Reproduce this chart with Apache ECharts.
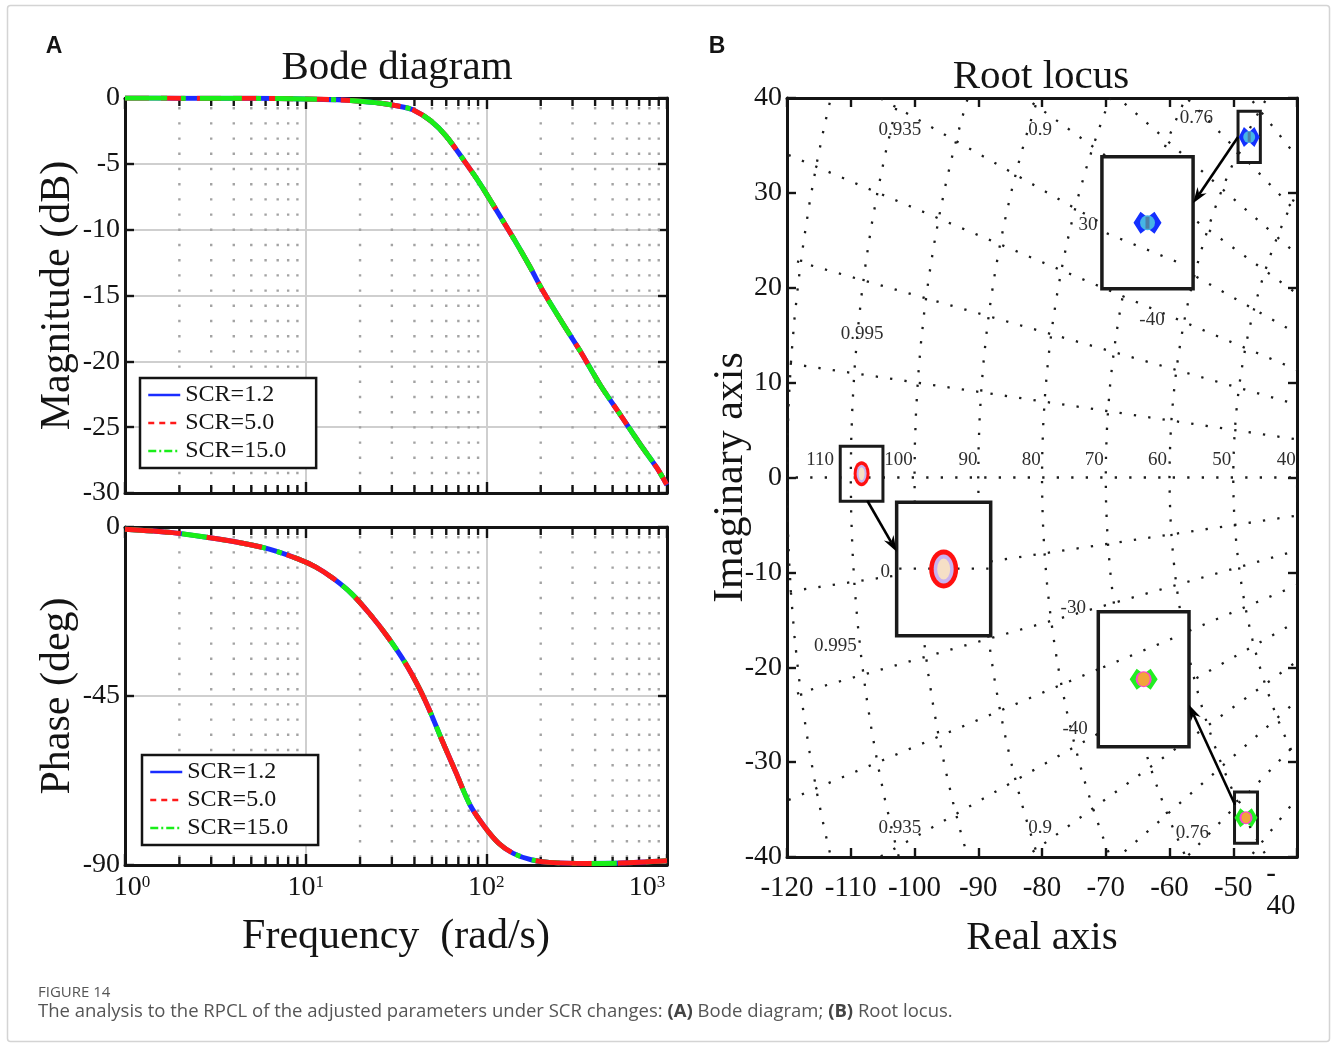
<!DOCTYPE html>
<html>
<head>
<meta charset="utf-8">
<script src="https://cdn.jsdelivr.net/npm/echarts@6.0.0/dist/echarts.min.js"></script>
<style>
html,body{margin:0;padding:0;background:#ffffff;}
#chart{width:1332px;height:1045px;}
</style>
</head>
<body>
<div id="chart"></div>
<script>
// ================= DATA =================
const scrNames = ['SCR=1.2', 'SCR=5.0', 'SCR=15.0'];

// Bode magnitude: frequency (rad/s) and gain (dB); the three SCR curves coincide
const magFreq   = [1, 2, 4, 7, 10, 15, 20, 25.5, 33, 39.2, 49.4, 59.9, 75.8, 91.8, 108.9, 140.6, 174, 206.5, 267, 330, 427, 551, 711, 880, 1000];
const magScr12  = [0, -0.01, -0.02, -0.04, -0.07, -0.14, -0.24, -0.38, -0.63, -0.89, -1.75, -2.9, -4.81, -6.46, -8.1, -10.6, -12.8, -14.7, -17.2, -19.2, -21.8, -24.05, -26.3, -28.1, -29.4];
const magScr50  = [0, -0.01, -0.02, -0.04, -0.07, -0.14, -0.24, -0.38, -0.63, -0.89, -1.75, -2.9, -4.81, -6.46, -8.1, -10.6, -12.8, -14.7, -17.2, -19.2, -21.8, -24.05, -26.3, -28.1, -29.4];
const magScr150 = [0, -0.01, -0.02, -0.04, -0.07, -0.14, -0.24, -0.38, -0.63, -0.89, -1.75, -2.9, -4.81, -6.46, -8.1, -10.6, -12.8, -14.7, -17.2, -19.2, -21.8, -24.05, -26.3, -28.1, -29.4];

// Bode phase: frequency (rad/s) and phase (deg)
const phaseFreq   = [1, 1.83, 2.89, 4.56, 6.29, 9.06, 11.4, 14.3, 18.0, 22.6, 28.4, 35.7, 42.9, 49.2, 56.5, 67.8, 81.4, 97.7, 117, 141, 177, 223, 352, 556, 1000];
const phaseScr12  = [-0.6, -1.5, -2.8, -4.4, -5.9, -8.5, -10.7, -13.8, -17.8, -23.1, -29.2, -36.3, -43.3, -49.5, -56.5, -65.3, -74.1, -79.8, -84.2, -86.9, -88.6, -89.3, -89.6, -89.5, -88.9];
const phaseScr50  = [-0.6, -1.5, -2.8, -4.4, -5.9, -8.5, -10.7, -13.8, -17.8, -23.1, -29.2, -36.3, -43.3, -49.5, -56.5, -65.3, -74.1, -79.8, -84.2, -86.9, -88.6, -89.3, -89.6, -89.5, -88.9];
const phaseScr150 = [-0.6, -1.5, -2.8, -4.4, -5.9, -8.5, -10.7, -13.8, -17.8, -23.1, -29.2, -36.3, -43.3, -49.5, -56.5, -65.3, -74.1, -79.8, -84.2, -86.9, -88.6, -89.3, -89.6, -89.5, -88.9];

// Tick values / labels
const freqMinorTicks = [2, 3, 4, 5, 6, 7, 8, 9, 20, 30, 40, 50, 60, 70, 80, 90, 200, 300, 400, 500, 600, 700, 800, 900];
const freqTickExponents = ['0', '1', '2', '3'];
const magTickLabels = ['0', '-5', '-10', '-15', '-20', '-25', '-30'];
const phaseTickLabels = ['0', '-45', '-90'];

// Root locus: closed-loop poles (real, imaginary)
const poleRe = [-108.3, -47.5, -48.0];
const poleIm = [0.4, 35.9, -35.85];
// s-grid: damping ratios and natural frequencies shown
const sgridZeta = [0.995, 0.982, 0.962, 0.935, 0.9, 0.862, 0.82, 0.764];
const sgridWn = [40, 50, 60, 70, 80, 90, 100, 110, 120];
const realTickLabels = ['-120', '-110', '-100', '-90', '-80', '-70', '-60', '-50', '-40'];
const imagTickLabels = ['40', '30', '20', '10', '0', '-10', '-20', '-30', '-40'];
const zetaLabelTexts = ['0.935', '0.9', '0.76', '0.995', '0.995', '0.935', '0.9', '0.76'];
const wnLabelTexts = ['110', '100', '90', '80', '70', '60', '50', '40'];
const insetLabelTexts = ['30', '-40', '0', '-30', '-40'];

// ================= LAYOUT (annotation anchors, in root-locus axis units) =================
const zetaLabelAt = [[-102.3, 36.6], [-80.3, 36.6], [-55.8, 37.9], [-108.2, 15.1], [-112.4, -17.8], [-102.3, -36.9], [-80.3, -36.9], [-56.4, -37.5]];
const wnLabelAt = [[-114.8, 1.85], [-102.5, 1.85], [-91.6, 1.85], [-81.7, 1.85], [-71.8, 1.85], [-61.9, 1.85], [-51.8, 1.85], [-41.7, 1.85]];
const insetLabelAt = [[-72.8, 26.6], [-62.75, 16.6], [-104.6, -10.0], [-75.1, -13.75], [-74.8, -26.5]];
const insetDefs = [
  { pole: 0, half: [3.35, 2.9], big: [-102.8, -88.05, -16.68, -2.62], arrowFrom: [-107.4, -2.45], arrowTo: [-102.8, -7.82], gridSeg: [[-102.4, -9.6], [-88.4, -9.6]] },
  { pole: 1, half: [1.75, 2.7], big: [-70.6, -56.3, 19.9, 33.8], arrowFrom: [-49.25, 35.9], arrowTo: [-56.3, 28.9], gridSeg: [[-69.85, 25.74], [-58.0, 22.5]] },
  { pole: 2, half: [1.8, 2.7], big: [-71.17, -56.94, -28.37, -14.15], arrowFrom: [-49.72, -34.5], arrowTo: [-56.94, -23.96], gridSeg: [[-70.4, -20.0], [-58.6, -16.7]] }
];

// ================= STYLES =================
const SERIF = '"Liberation Serif", "Times New Roman", serif';
const SANS = '"Liberation Sans", Arial, sans-serif';
const CAPFONT = '"Open Sans", sans-serif';
const INK = '#141414';
const GRIDGRAY = '#cfcfcf';
const DOTGRAY = '#a3a3a3';
const BLUE = '#1a2cff', RED = '#ff1a1a', GREEN = '#19ee19';
const BOWTIE = 'path://M0,6 L5,0 L10,3 L15,0 L20,6 L15,12 L10,9 L5,12 Z';

const chart = echarts.init(document.getElementById('chart'), null, { renderer: 'canvas' });

const G = [
  { left: 125, top: 98, width: 542, height: 395 },   // magnitude
  { left: 125, top: 527, width: 542, height: 338 },  // phase
  { left: 787, top: 98, width: 510, height: 759 }    // root locus
];

function frameAxis(extra) {
  return Object.assign({
    axisLine: { show: true, onZero: false, lineStyle: { color: INK, width: 3 } },
    axisTick: { show: true, inside: true, length: 11, lineStyle: { color: INK, width: 2.4 } },
    axisLabel: { show: false },
    splitLine: { show: false }
  }, extra);
}
const splitGray = { show: true, lineStyle: { color: GRIDGRAY, width: 2 } };
const tick9 = { show: true, inside: true, length: 9, lineStyle: { color: INK, width: 2.4 } };

function freqLabel(v) {
  const e = Math.round(Math.log10(v));
  const exp = freqTickExponents[e];
  if (e === 0) return '{bf|10}{s|' + exp + '}';
  if (e === freqTickExponents.length - 1) return '{b|10}{sl|' + exp + '}';
  return '{b|10}{s|' + exp + '}';
}
const supRich = {
  b: { fontFamily: SERIF, fontSize: 28, color: INK },
  bf: { fontFamily: SERIF, fontSize: 28, color: INK, padding: [0, 0, 0, 14] },
  s: { fontFamily: SERIF, fontSize: 17, color: INK, verticalAlign: 'top' },
  sl: { fontFamily: SERIF, fontSize: 17, color: INK, verticalAlign: 'top', padding: [0, 40, 0, 0] }
};

const xAxes = [
  frameAxis({ type: 'log', logBase: 10, min: 1, max: 1000, gridIndex: 0, splitLine: splitGray }),
  frameAxis({ type: 'log', logBase: 10, min: 1, max: 1000, gridIndex: 0, position: 'top' }),
  frameAxis({
    type: 'log', logBase: 10, min: 1, max: 1000, gridIndex: 1, splitLine: splitGray,
    axisLabel: { show: true, margin: 9, formatter: freqLabel, rich: supRich },
    name: 'Frequency  (rad/s)', nameLocation: 'middle', nameGap: 51,
    nameTextStyle: { fontFamily: SERIF, fontSize: 42, color: INK }
  }),
  frameAxis({ type: 'log', logBase: 10, min: 1, max: 1000, gridIndex: 1, position: 'top' }),
  frameAxis({
    type: 'value', min: -120, max: -40, interval: 10, gridIndex: 2, axisTick: tick9,
    axisLabel: {
      show: true, margin: 17, fontFamily: SERIF, fontSize: 29, color: INK,
      formatter: v => (v === -40 ? '' : realTickLabels[Math.round((v + 120) / 10)])
    },
    name: 'Real axis', nameLocation: 'middle', nameGap: 61,
    nameTextStyle: { fontFamily: SERIF, fontSize: 41, color: INK }
  }),
  frameAxis({ type: 'value', min: -120, max: -40, interval: 10, gridIndex: 2, position: 'top', axisTick: tick9 })
];

const yAxes = [
  frameAxis({
    type: 'value', min: -30, max: 0, interval: 5, gridIndex: 0, splitLine: splitGray, axisTick: tick9,
    axisLabel: { show: true, margin: 5, fontFamily: SERIF, fontSize: 28, color: INK, formatter: v => magTickLabels[Math.round(-v / 5)] },
    name: 'Magnitude (dB)', nameLocation: 'middle', nameGap: 46,
    nameTextStyle: { fontFamily: SERIF, fontSize: 42, color: INK }
  }),
  frameAxis({ type: 'value', min: -30, max: 0, interval: 5, gridIndex: 0, position: 'right', axisTick: tick9 }),
  frameAxis({
    type: 'value', min: -90, max: 0, interval: 45, gridIndex: 1, splitLine: splitGray, axisTick: tick9,
    axisLabel: { show: true, margin: 5, fontFamily: SERIF, fontSize: 28, color: INK, formatter: v => phaseTickLabels[Math.round(-v / 45)] },
    name: 'Phase (deg)', nameLocation: 'middle', nameGap: 45,
    nameTextStyle: { fontFamily: SERIF, fontSize: 42, color: INK }
  }),
  frameAxis({ type: 'value', min: -90, max: 0, interval: 45, gridIndex: 1, position: 'right', axisTick: tick9 }),
  frameAxis({
    type: 'value', min: -40, max: 40, interval: 10, gridIndex: 2, axisTick: tick9,
    axisLabel: { show: true, margin: 5, fontFamily: SERIF, fontSize: 28, color: INK, formatter: v => imagTickLabels[Math.round((40 - v) / 10)] },
    name: 'Imaginary axis', nameLocation: 'middle', nameGap: 35, nameMoveOverlap: false,
    nameTextStyle: { fontFamily: SERIF, fontSize: 42, color: INK }
  }),
  frameAxis({ type: 'value', min: -40, max: 40, interval: 10, gridIndex: 2, position: 'right', axisTick: tick9 })
];

// ---------- Bode helpers ----------
function minorSeries(ai, yMin, yMax) {
  return {
    type: 'custom', xAxisIndex: ai, yAxisIndex: ai, silent: true, z: 1, animation: false,
    data: freqMinorTicks.map(f => [f, yMin]),
    renderItem(params, api) {
      const f = api.value(0);
      const b = api.coord([f, yMin]), t = api.coord([f, yMax]);
      return { type: 'group', children: [
        { type: 'line', shape: { x1: t[0], y1: t[1] + 9, x2: b[0], y2: b[1] - 2 }, style: { stroke: DOTGRAY, lineWidth: 2.4, lineDash: [2.4, 12.8] } },
        { type: 'line', shape: { x1: b[0], y1: b[1], x2: b[0], y2: b[1] - 8 }, style: { stroke: INK, lineWidth: 2.4 } },
        { type: 'line', shape: { x1: t[0], y1: t[1], x2: t[0], y2: t[1] + 8 }, style: { stroke: INK, lineWidth: 2.4 } }
      ] };
    }
  };
}
function curve(name, ai, xs, ys, color, type, z) {
  return {
    type: 'line', name, xAxisIndex: ai, yAxisIndex: ai, z,
    data: xs.map((x, i) => [x, ys[i]]),
    symbol: 'none', showSymbol: false, smooth: 0.3,
    lineStyle: { color, width: 5, type, cap: 'butt', join: 'round' }, itemStyle: { color },
    silent: true, animation: false
  };
}

// ---------- Root-locus helpers ----------
const dotStyle = { fill: null, stroke: '#1c1c1c', lineWidth: 2.3, lineDash: [2.3, 12.2] };
function sgridSeries() {
  return {
    type: 'custom', xAxisIndex: 4, yAxisIndex: 4, silent: true, z: 1, animation: false, data: [[-80, 0]],
    renderItem(params, api) {
      const cs = params.coordSys;
      const ch = [];
      sgridWn.forEach(w => {
        const pts = [];
        for (let a = -90; a <= 90; a += 2) {
          const r = a * Math.PI / 180;
          pts.push(api.coord([-w * Math.cos(r), w * Math.sin(r)]));
        }
        ch.push({ type: 'polyline', shape: { points: pts }, style: dotStyle });
      });
      ch.push({ type: 'polyline', shape: { points: [api.coord([0, 0]), api.coord([-200, 0])] }, style: dotStyle });
      sgridZeta.forEach(z => {
        const th = Math.acos(z);
        [1, -1].forEach(sg => {
          ch.push({ type: 'polyline', shape: { points: [api.coord([0, 0]), api.coord([-200 * Math.cos(th), sg * 200 * Math.sin(th)])] }, style: dotStyle });
        });
      });
      return { type: 'group', children: ch, clipPath: { type: 'rect', shape: { x: cs.x, y: cs.y, width: cs.width, height: cs.height } } };
    }
  };
}
function smallRect(d) {
  const i = d.pole;
  return [poleRe[i] - d.half[0], poleRe[i] + d.half[0], poleIm[i] - d.half[1], poleIm[i] + d.half[1]];
}
function rectShape(api, r) {
  const a = api.coord([r[0], r[3]]), b = api.coord([r[1], r[2]]);
  return { x: a[0], y: a[1], width: b[0] - a[0], height: b[1] - a[1] };
}
function arrowHead(p, q) {
  const dx = q[0] - p[0], dy = q[1] - p[1], L = Math.hypot(dx, dy);
  const ux = dx / L, uy = dy / L, nx = -uy, ny = ux;
  const len = 16, w = 5.5, notch = 11;
  return [[q[0], q[1]], [q[0] - ux * len + nx * w, q[1] - uy * len + ny * w], [q[0] - ux * notch, q[1] - uy * notch], [q[0] - ux * len - nx * w, q[1] - uy * len - ny * w]];
}
function labelEl(api, text, at) {
  const p = api.coord(at);
  return { type: 'text', x: p[0], y: p[1], style: { text, fill: '#2e2e2e', fontFamily: SERIF, fontSize: 19, align: 'center', verticalAlign: 'middle' } };
}
function insetSeries() {
  return {
    type: 'custom', xAxisIndex: 4, yAxisIndex: 4, silent: true, z: 3, animation: false, data: [[-80, 0]],
    renderItem(params, api) {
      const ch = [];
      zetaLabelTexts.forEach((t, k) => ch.push(labelEl(api, t, zetaLabelAt[k])));
      wnLabelTexts.forEach((t, k) => ch.push(labelEl(api, t, wnLabelAt[k])));
      insetDefs.forEach(d => {
        ch.push({ type: 'rect', shape: rectShape(api, smallRect(d)), style: { fill: null, stroke: '#1a1a1a', lineWidth: 3 } });
        ch.push({ type: 'rect', shape: rectShape(api, d.big), style: { fill: '#ffffff', stroke: '#1a1a1a', lineWidth: 3.5 } });
        ch.push({ type: 'polyline', shape: { points: d.gridSeg.map(p => api.coord(p)) }, style: dotStyle });
        const p = api.coord(d.arrowFrom), q = api.coord(d.arrowTo);
        const head = arrowHead(p, q);
        ch.push({ type: 'line', shape: { x1: p[0], y1: p[1], x2: head[2][0], y2: head[2][1] }, style: { stroke: '#000', lineWidth: 2.6 } });
        ch.push({ type: 'polygon', shape: { points: head }, style: { fill: '#000' } });
      });
      insetLabelTexts.forEach((t, k) => ch.push(labelEl(api, t, insetLabelAt[k])));
      return { type: 'group', children: ch };
    }
  };
}
function magnified(i) {
  const d = insetDefs.find(x => x.pole === i);
  const s = smallRect(d);
  const fx = (poleRe[i] - s[0]) / (s[1] - s[0]), fy = (poleIm[i] - s[2]) / (s[3] - s[2]);
  return [d.big[0] + fx * (d.big[1] - d.big[0]), d.big[2] + fy * (d.big[3] - d.big[2])];
}
const poleLayers = [
  { pole: 0, symbol: 'circle', color: '#ff1010', size: [[16, 25], [29, 39]] },
  { pole: 0, symbol: 'circle', color: '#c9b3f1', size: [[10, 18], [20, 29]] },
  { pole: 0, symbol: 'circle', color: '#f6dfc6', size: [[6, 13], [13, 21]] },
  { pole: 1, symbol: BOWTIE, color: '#1430ff', size: [[21, 20], [28, 22]] },
  { pole: 1, symbol: 'circle', color: '#46b5e6', size: [[12, 12], [15, 15]] },
  { pole: 1, symbol: 'rect', color: '#4d7fa6', size: [[3, 10], [4, 12]] },
  { pole: 2, symbol: BOWTIE, color: '#22ee22', size: [[23, 19], [28, 21]] },
  { pole: 2, symbol: 'circle', color: '#ff40d2', size: [[13, 13], [16, 16]] },
  { pole: 2, symbol: 'circle', color: '#f2a43a', size: [[9, 11], [12, 14]] }
];
const poleSeries = poleLayers.map((L, k) => ({
  type: 'scatter', xAxisIndex: 4, yAxisIndex: 4, z: 5 + k, silent: true, animation: false,
  symbol: L.symbol, symbolSize: (v, p) => L.size[p.dataIndex],
  itemStyle: { color: L.color, opacity: 1, borderWidth: 0 },
  data: [[poleRe[L.pole], poleIm[L.pole]], magnified(L.pole)]
}));

const noSymbol = { color: 'rgba(0,0,0,0)', opacity: 0, borderWidth: 0 };
const legendItems = [
  { name: scrNames[0], lineStyle: { type: 'solid', width: 2.5 }, itemStyle: noSymbol },
  { name: scrNames[1], lineStyle: { type: [6, 5], width: 2.5 }, itemStyle: noSymbol },
  { name: scrNames[2], lineStyle: { type: [8, 3, 2, 3], width: 2.5 }, itemStyle: noSymbol }
];
function legendAt(left, top) {
  return {
    left, top, orient: 'vertical', selectedMode: false, itemWidth: 32, itemHeight: 12, itemGap: 4,
    padding: [5, 30, 5, 7], backgroundColor: '#ffffff', borderColor: INK, borderWidth: 2.5,
    itemStyle: noSymbol,
    textStyle: { fontFamily: SERIF, fontSize: 24, color: INK },
    data: legendItems
  };
}

const option = {
  animation: false,
  backgroundColor: '#ffffff',
  textStyle: { fontFamily: SERIF },
  grid: G,
  xAxis: xAxes,
  yAxis: yAxes,
  legend: [legendAt(140, 378), legendAt(142, 755)],
  series: [
    minorSeries(0, -30, 0),
    curve(scrNames[0], 0, magFreq, magScr12, BLUE, 'solid', 2),
    curve(scrNames[1], 0, magFreq, magScr50, RED, [24, 12], 3),
    curve(scrNames[2], 0, magFreq, magScr150, GREEN, [42, 14, 5, 14], 4),
    minorSeries(2, -90, 0),
    curve(scrNames[0], 2, phaseFreq, phaseScr12, BLUE, 'solid', 2),
    curve(scrNames[2], 2, phaseFreq, phaseScr150, GREEN, [28, 12, 5, 12], 3),
    curve(scrNames[1], 2, phaseFreq, phaseScr50, RED, [56, 26], 4),
    sgridSeries(),
    insetSeries()
  ].concat(poleSeries)
};
chart.setOption(option);

// ---------- Titles, caption, frame and the split "-40" tick label ----------
const corner = chart.convertToPixel({ gridIndex: 2 }, [-40, -40]);
const lastReal = realTickLabels[realTickLabels.length - 1];
const graphics = [
  { type: 'rect', silent: true, shape: { x: 7.5, y: 5.5, width: 1322, height: 1036, r: 3 }, style: { fill: null, stroke: '#d4d4d4', lineWidth: 1.5 } },
  { type: 'text', x: 54, y: 47, style: { text: 'A', fontFamily: SANS, fontWeight: 'bold', fontSize: 23, fill: INK, align: 'center', verticalAlign: 'middle' } },
  { type: 'text', x: 717, y: 47, style: { text: 'B', fontFamily: SANS, fontWeight: 'bold', fontSize: 23, fill: INK, align: 'center', verticalAlign: 'middle' } },
  { type: 'text', x: 397, y: 68, style: { text: 'Bode diagram', fontFamily: SERIF, fontSize: 41, fill: INK, align: 'center', verticalAlign: 'middle' } },
  { type: 'text', x: 1041, y: 77, style: { text: 'Root locus', fontFamily: SERIF, fontSize: 41, fill: INK, align: 'center', verticalAlign: 'middle' } },
  { type: 'text', x: corner[0] - 26, y: corner[1] + 17, style: { text: lastReal.charAt(0), fontFamily: SERIF, fontSize: 29, fill: INK, align: 'center', verticalAlign: 'middle' } },
  { type: 'text', x: corner[0] - 16, y: corner[1] + 49, style: { text: lastReal.slice(1), fontFamily: SERIF, fontSize: 29, fill: INK, align: 'center', verticalAlign: 'middle' } },
  { type: 'text', x: 38, y: 993, style: { text: 'FIGURE 14', fontFamily: CAPFONT, fontSize: 15, fill: '#555555', verticalAlign: 'middle' } },
  { type: 'text', x: 38, y: 1012, style: {
      text: 'The analysis to the RPCL of the adjusted parameters under SCR changes: {b|(A)} Bode diagram; {b|(B)} Root locus.',
      fontFamily: CAPFONT, fontSize: 18.5, fill: '#555555', verticalAlign: 'middle',
      rich: { b: { fontFamily: CAPFONT, fontSize: 18.5, fontWeight: 'bold', fill: '#444444' } }
  } }
];
chart.setOption({ graphic: graphics });
</script>
</body>
</html>
